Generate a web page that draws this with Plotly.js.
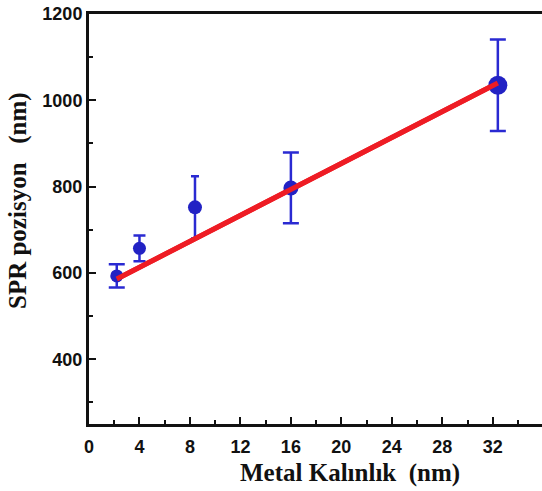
<!DOCTYPE html>
<html><head><meta charset="utf-8">
<script src="https://cdn.plot.ly/plotly-3.0.1.min.js"></script>
<style>html,body{margin:0;padding:0;background:#fff}#chart{width:542px;height:491px}</style>
</head><body><div id="chart"></div>
<script>
// Data
const thickness = [2.2, 4.0, 8.4, 16.0, 32.4];
const sprPosition = [593, 657, 752, 797, 1035];
const sprError = [27, 30, 72, 82, 106];
const fitX = [2.2, 32.4];
const fitY = [586, 1040];
const xTicks = [0, 4, 8, 12, 16, 20, 24, 28, 32];
const yTicks = [400, 600, 800, 1000, 1200];
const xTitle = 'Metal Kalınlık  (nm)';
const yTitle = 'SPR pozisyon   (nm)';

// styles
const markerSizes = [13, 13, 14, 15, 19];
const capHalfWidths = [8, 6, 4, 8, 8];

const traces = [];
traces.push({
  x: fitX, y: fitY, mode: 'lines', type: 'scatter',
  line: {color: '#ee1c24', width: 5}, hoverinfo: 'skip'
});
thickness.forEach((t, i) => {
  traces.push({
    x: [t], y: [sprPosition[i]], type: 'scatter', mode: 'markers',
    marker: {color: '#2222c4', size: markerSizes[i]},
    error_y: {type: 'data', array: [sprError[i]], visible: true,
      color: '#2a2ad2', thickness: 2.5, width: capHalfWidths[i]}
  });
});
// redraw line on top
traces.push(Object.assign({}, traces[0]));

const tickFont = {family: 'Liberation Sans, Arial, sans-serif', size: 18, color: '#111', weight: 'bold'};
const titleFont = {family: 'Liberation Serif, Times New Roman, serif', size: 25, color: '#111', weight: 'bold'};

const layout = {
  width: 542, height: 491,
  margin: {l: 89, r: 0, t: 14, b: 67},
  showlegend: false,
  paper_bgcolor: '#fff', plot_bgcolor: '#fff',
  xaxis: {
    range: [0, 35.9], tickvals: xTicks, ticktext: xTicks.map(String),
    ticks: 'inside', ticklen: 7, tickwidth: 2, tickcolor: '#111',
    minor: {dtick: 2, tick0: 0, ticks: 'inside', ticklen: 4, tickwidth: 2, tickcolor: '#111'},
    showline: true, linewidth: 3, linecolor: '#111', mirror: true,
    showgrid: false, zeroline: false,
    tickfont: tickFont, ticklabelstandoff: 4
  },
  yaxis: {
    range: [250, 1200], tickvals: yTicks, ticktext: yTicks.map(String),
    ticks: 'inside', ticklen: 7, tickwidth: 2, tickcolor: '#111',
    minor: {dtick: 100, tick0: 0, ticks: 'inside', ticklen: 4, tickwidth: 2, tickcolor: '#111'},
    showline: true, linewidth: 3, linecolor: '#111',
    showgrid: false, zeroline: false,
    tickfont: tickFont
  },
  annotations: [
    {text: xTitle, xref: 'paper', yref: 'paper', x: 0.576, y: -0.1195,
     xanchor: 'center', yanchor: 'middle', showarrow: false, font: titleFont},
    {text: yTitle, xref: 'paper', yref: 'paper', x: -0.157, y: 0.546, textangle: -90,
     xanchor: 'center', yanchor: 'middle', showarrow: false, font: titleFont}
  ]
};
Plotly.newPlot('chart', traces, layout, {displayModeBar: false, staticPlot: true});
</script></body></html>
